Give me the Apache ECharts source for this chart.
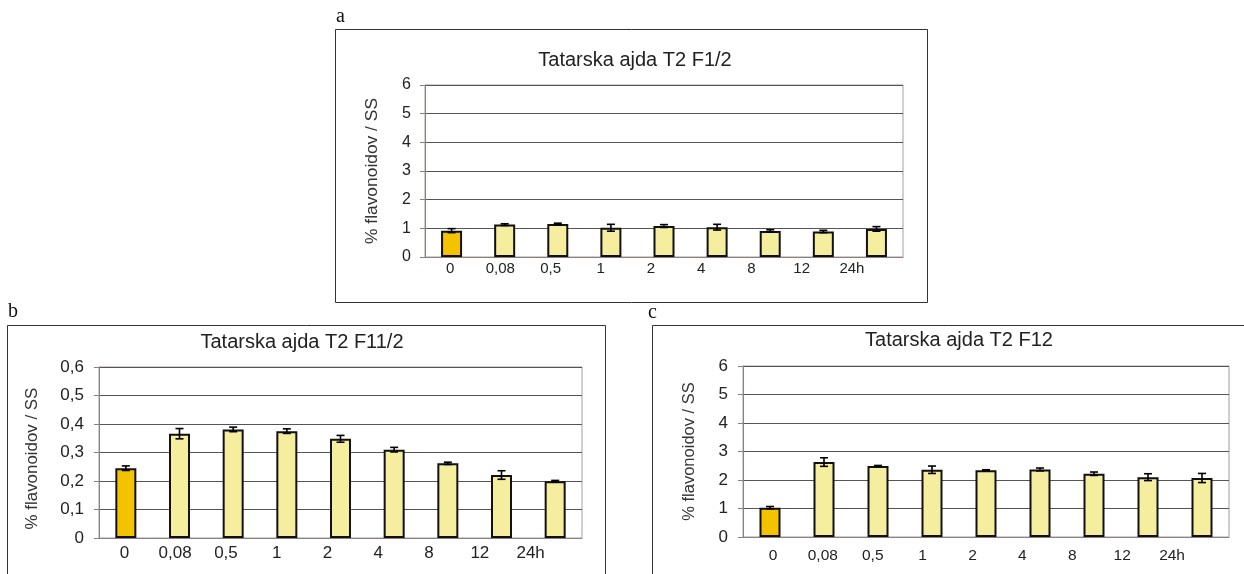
<!DOCTYPE html>
<html>
<head>
<meta charset="utf-8">
<script src="https://cdn.jsdelivr.net/npm/echarts@6/dist/echarts.min.js"></script>
<style>
html,body{margin:0;padding:0;background:#fff;}
#chart{width:1244px;height:574px;}
</style>
</head>
<body>
<div id="chart"></div>
<script>
// ---- data ----
const categories = ['0', '0,08', '0,5', '1', '2', '4', '8', '12', '24h'];
const titleA = 'Tatarska ajda T2 F1/2';
const titleB = 'Tatarska ajda T2 F11/2';
const titleC = 'Tatarska ajda T2 F12';
const yAxisName = '% flavonoidov / SS';
const valuesA = [0.92, 1.13, 1.15, 1.02, 1.08, 1.04, 0.91, 0.89, 0.98];
const errorsA = [0.07, 0.03, 0.03, 0.12, 0.05, 0.10, 0.04, 0.04, 0.08];
const valuesB = [0.245, 0.366, 0.381, 0.375, 0.348, 0.310, 0.262, 0.221, 0.199];
const errorsB = [0.008, 0.018, 0.008, 0.008, 0.012, 0.008, 0.004, 0.015, 0.003];
const valuesC = [1.03, 2.63, 2.49, 2.36, 2.34, 2.37, 2.22, 2.10, 2.07];
const errorsC = [0.04, 0.15, 0.02, 0.13, 0.02, 0.05, 0.06, 0.12, 0.16];
const yRangeA = {min: 0, max: 6, interval: 1};
const yRangeB = {min: 0, max: 0.6, interval: 0.1};
const yRangeC = {min: 0, max: 6, interval: 1};

// ---- styles ----
const FONT = '"Liberation Sans", Arial, sans-serif';
const ORANGE = '#F3C300';
const PALE = '#F5EE9F';
const AXIS = '#8c7f7f';
const GRIDLINE = '#555555';

function fmt(v) { return v === 0 ? '0' : (Math.round(v * 10) / 10).toString().replace('.', ','); }

function errRender(params, api) {
  const x = api.value(0), v = api.value(1), e = api.value(2);
  const hi = api.coord([x, v + e]);
  const lo = api.coord([x, v - e]);
  const h = 4;
  const st = {stroke: '#000', lineWidth: 1.6};
  return {type: 'group', children: [
    {type: 'line', shape: {x1: hi[0], y1: hi[1], x2: lo[0], y2: lo[1]}, style: st},
    {type: 'line', shape: {x1: hi[0] - h, y1: hi[1], x2: hi[0] + h, y2: hi[1]}, style: st},
    {type: 'line', shape: {x1: lo[0] - h, y1: lo[1], x2: lo[0] + h, y2: lo[1]}, style: st}
  ]};
}

const panels = [
  {values: valuesA, errors: errorsA, range: yRangeA,
   grid: {left: 425, top: 85, width: 478, height: 172},
   lab: {left: 425, width: 452},
   yFont: 16, xFont: 15, labMargin: 4, yMargin: 14, nameGap: 44, nameFont: 17.4, namePad: [0, 0, 0, 0]},
  {values: valuesB, errors: errorsB, range: yRangeB,
   grid: {left: 99, top: 367, width: 483, height: 171},
   lab: {left: 99, width: 457},
   yFont: 17, xFont: 17, labMargin: 7, yMargin: 15, nameGap: 58, nameFont: 16.9, namePad: [0, 12, 0, 0]},
  {values: valuesC, errors: errorsC, range: yRangeC,
   grid: {left: 743, top: 366, width: 486, height: 171},
   lab: {left: 748, width: 449},
   yFont: 17, xFont: 15.5, labMargin: 11, yMargin: 15, nameGap: 45, nameFont: 16.5, namePad: [0, 0, 0, 0]}
];

const grids = [], xAxes = [], yAxes = [], series = [];
panels.forEach((p, i) => {
  const g = grids.length;
  grids.push(Object.assign({show: true, borderColor: '#a89c9c', borderWidth: 1, backgroundColor: 'transparent'}, p.grid));
  grids.push({left: p.lab.left, width: p.lab.width, top: p.grid.top, height: p.grid.height});
  xAxes.push({type: 'category', gridIndex: g, data: categories,
    axisLine: {lineStyle: {color: AXIS, width: 1}}, axisTick: {show: false}, axisLabel: {show: false}});
  xAxes.push({type: 'category', gridIndex: g + 1, data: categories,
    axisLine: {show: false}, axisTick: {show: false},
    axisLabel: {color: '#222', fontFamily: FONT, fontSize: p.xFont, margin: p.labMargin}});
  yAxes.push({type: 'value', gridIndex: g, min: p.range.min, max: p.range.max, interval: p.range.interval,
    axisLine: {show: true, lineStyle: {color: AXIS}},
    axisTick: {show: true, length: 5, lineStyle: {color: AXIS}},
    splitLine: {lineStyle: {color: GRIDLINE, width: 1}},
    axisLabel: {color: '#222', fontFamily: FONT, fontSize: p.yFont, margin: p.yMargin, formatter: fmt},
    name: yAxisName, nameLocation: 'middle', nameGap: p.nameGap,
    nameTextStyle: {color: '#333', fontFamily: FONT, fontSize: p.nameFont, padding: p.namePad}});
  yAxes.push({type: 'value', gridIndex: g + 1, show: false, min: 0, max: 1});
  series.push({type: 'bar', xAxisIndex: xAxes.length - 2, yAxisIndex: yAxes.length - 2,
    barWidth: 21,
    data: p.values.map((v, k) => ({value: v, itemStyle: {color: k === 0 ? ORANGE : PALE}})),
    itemStyle: {borderColor: '#111', borderWidth: 2}, silent: true, animation: false});
  series.push({type: 'custom', xAxisIndex: xAxes.length - 2, yAxisIndex: yAxes.length - 2,
    renderItem: errRender, data: p.values.map((v, k) => [k, v, p.errors[k]]), z: 5, silent: true, animation: false});
});

const titleStyle = {fontFamily: FONT, fontSize: 20, fontWeight: 'normal', color: '#222'};
const chart = echarts.init(document.getElementById('chart'), null, {renderer: 'canvas'});
chart.setOption({
  backgroundColor: '#fff',
  animation: false,
  title: [
    {text: titleA, left: 630, top: 45, textAlign: 'center', textStyle: titleStyle},
    {text: titleB, left: 297, top: 327, textAlign: 'center', textStyle: titleStyle},
    {text: titleC, left: 954, top: 325, textAlign: 'center', textStyle: titleStyle}
  ],
  grid: grids, xAxis: xAxes, yAxis: yAxes, series: series,
  graphic: [
    {type: 'rect', shape: {x: 335.5, y: 29.5, width: 592, height: 273}, style: {fill: 'none', stroke: '#333', lineWidth: 1}, silent: true},
    {type: 'rect', shape: {x: 7.5, y: 325.5, width: 598, height: 260}, style: {fill: 'none', stroke: '#333', lineWidth: 1}, silent: true},
    {type: 'rect', shape: {x: 652.5, y: 325.5, width: 600, height: 260}, style: {fill: 'none', stroke: '#333', lineWidth: 1}, silent: true},
    {type: 'text', left: 336, top: 7, style: {text: 'a', font: '20px "Liberation Serif", serif', fill: '#111'}},
    {type: 'text', left: 8, top: 302, style: {text: 'b', font: '20px "Liberation Serif", serif', fill: '#111'}},
    {type: 'text', left: 648, top: 303, style: {text: 'c', font: '20px "Liberation Serif", serif', fill: '#111'}}
  ]
});
</script>
</body>
</html>
